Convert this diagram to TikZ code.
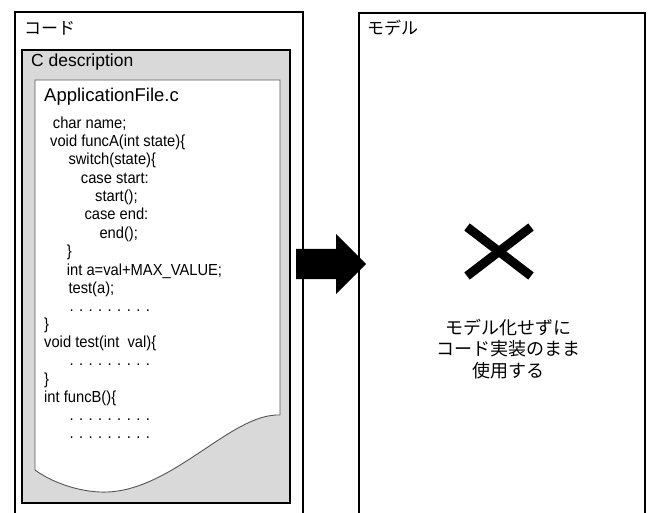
\documentclass[tikz,border=0pt]{standalone}
\usepackage{fontspec}
\setmainfont{Liberation Sans}
\newfontfamily\jpfont{Noto Sans CJK JP}
\newfontfamily\codefont[FakeStretch=0.92]{Liberation Sans}
\definecolor{panelgray}{HTML}{D9D9D9}
\definecolor{paperedge}{HTML}{555555}
\begin{document}
\begin{tikzpicture}[x=1pt,y=-1pt,
  outerbox/.style={draw=black,line width=2.4pt},
  graybox/.style={draw=black,fill=panelgray,line width=2pt},
  paper/.style={draw=paperedge,fill=white,line width=0.9pt},
  jplabel/.style={anchor=west,inner sep=0pt,font=\jpfont\fontsize{17}{20}\selectfont},
  codeline/.style={anchor=base west,inner sep=0pt,font=\codefont\fontsize{16}{18}\selectfont},
  bigarrow/.style={fill=black},
  cross/.style={draw=black,line width=9pt,line cap=butt}]
\useasboundingbox (0,0) rectangle (648,513);
\fill[white] (0,0) rectangle (648,513);

% outer panels (open at the bottom)
\draw[outerbox] (15,520) -- (15,12) -- (303,12) -- (303,520);
\draw[outerbox] (359,520) -- (359,13) -- (645,13) -- (645,520);
\node[jplabel] (codelabel) at (24,28) {コード};
\node[jplabel] (modellabel) at (367,28) {モデル};

% C description panel
\draw[graybox] (22,50) rectangle (290,503);
\node[anchor=base west,inner sep=0pt,font=\fontsize{17.5}{20}\selectfont] (cdesc) at (31,66.7) {C description};

% paper sheet with wavy bottom
\draw[paper] (35,80) -- (280,80) -- (280,415)
  .. controls (230,413) and (170,495) .. (100,492)
  .. controls (75,491) and (50,481) .. (35,470) -- cycle;
\node[anchor=base west,inner sep=0pt,font=\fontsize{18.5}{21}\selectfont] (fname) at (44,101.7) {ApplicationFile.c};

% code lines
\node[codeline] (l1)  at (52.7,128.3) {char name;};
\node[codeline] (l2)  at (50,146.6)   {void funcA(int state)\{};
\node[codeline] (l3)  at (68.3,164.9) {switch(state)\{};
\node[codeline] (l4)  at (80.7,183.2) {case start:};
\node[codeline] (l5)  at (95,201.5)   {start();};
\node[codeline] (l6)  at (84.3,219.8) {case end:};
\node[codeline] (l7)  at (99.3,238.1) {end();};
\node[codeline] (l8)  at (66.7,256.4) {\}};
\node[codeline] (l9)  at (66.7,275.5) {int a=val+MAX\_VALUE;};
\node[codeline] (l10) at (68.3,293.5) {test(a);};
\node[codeline] (l11) at (69.3,311)   {. . . . . . . . .};
\node[codeline] (l12) at (44,329.3)   {\}};
\node[codeline] (l13) at (44,347.9)   {void test(int\ \ val)\{};
\node[codeline] (l14) at (69.3,365.5) {. . . . . . . . .};
\node[codeline] (l15) at (44,384.5)   {\}};
\node[codeline] (l16) at (44,402.8)   {int funcB()\{};
\node[codeline] (l17) at (69.3,420.5) {. . . . . . . . .};
\node[codeline] (l18) at (69.3,438)   {. . . . . . . . .};

% big arrow from code panel to model panel
\fill[bigarrow] (296,249) -- (336,249) -- (336,234) -- (366,264)
  -- (336,294) -- (336,279) -- (296,279) -- cycle;

% cross mark
\draw[cross] (467,227) -- (531,276);
\draw[cross] (531,227) -- (467,276);

\node[align=center,inner sep=0pt,font=\jpfont\fontsize{18}{21.7}\selectfont] (note) at (508,349)
  {モデル化せずに\\コード実装のまま\\使用する};
\end{tikzpicture}
\end{document}
